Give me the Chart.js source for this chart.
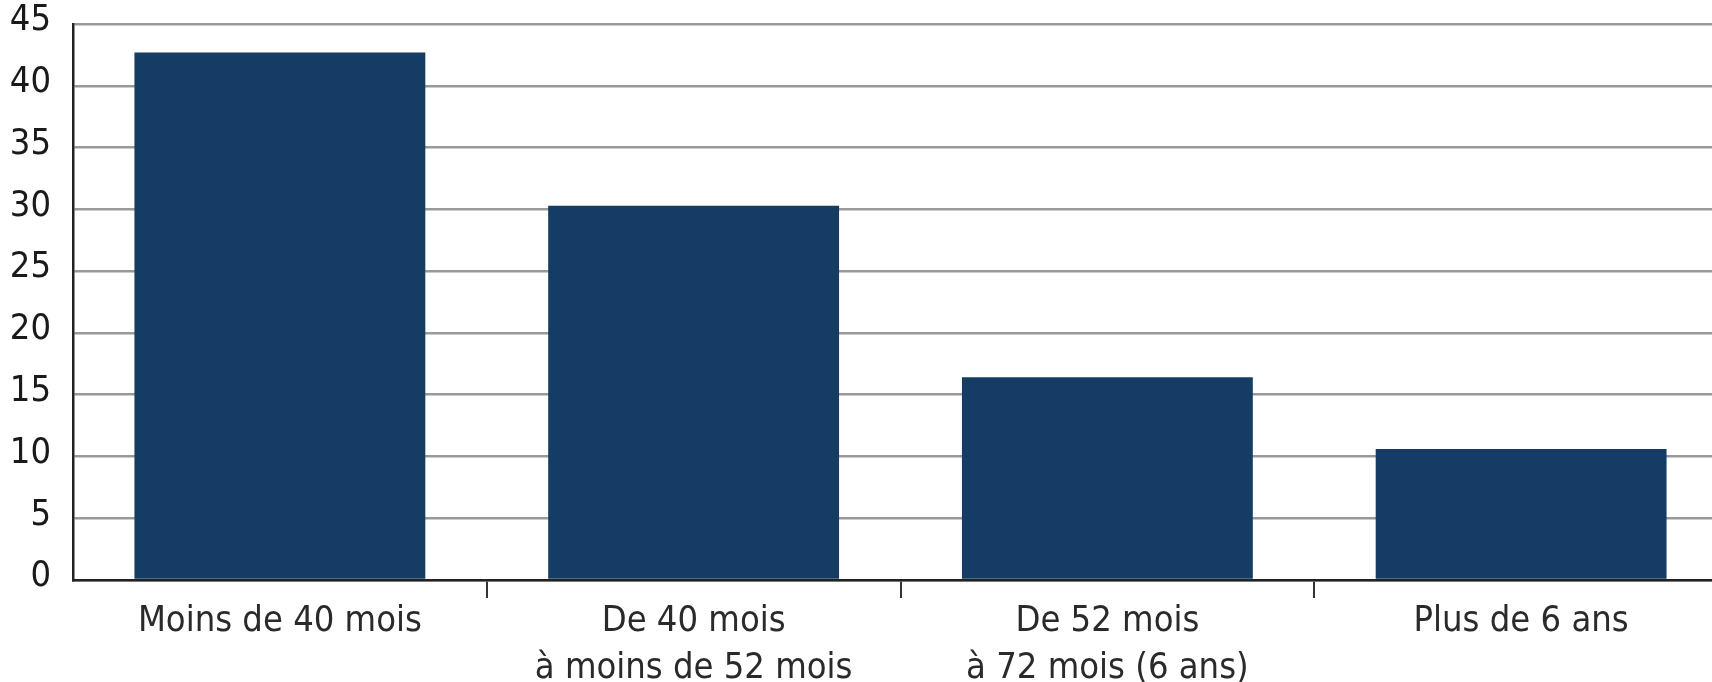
<!DOCTYPE html>
<html>
<head>
<meta charset="utf-8">
<script src="https://cdn.jsdelivr.net/npm/chart.js@4"></script>
<style>
  html, body { margin: 0; padding: 0; overflow: hidden; background: #fff; }
  #wrap { width: 1740px; height: 682px; position: relative; }
</style>
</head>
<body>
<div id="wrap"><canvas id="c"></canvas></div>
<script>
const categories = [
  "Moins de 40 mois",
  ["De 40 mois", "à moins de 52 mois"],
  ["De 52 mois", "à 72 mois (6 ans)"],
  "Plus de 6 ans"
];
const values = [42.7, 30.3, 16.4, 10.6];
const yTicks = [0, 5, 10, 15, 20, 25, 30, 35, 40, 45];

const FONT = "'Liberation Sans Narrow', 'DejaVu Sans Condensed', 'Arial Narrow', sans-serif";

new Chart(document.getElementById('c'), {
  type: 'bar',
  data: {
    labels: categories,
    datasets: [{
      data: values,
      backgroundColor: '#143c64',
      borderWidth: 0,
      categoryPercentage: 1.0,
      barPercentage: 0.703
    }]
  },
  options: {
    responsive: true,
    maintainAspectRatio: false,
    animation: false,
    devicePixelRatio: 1,
    layout: { padding: { top: 0, right: 12, left: 0, bottom: 0 } },
    plugins: { legend: { display: false }, tooltip: { enabled: false } },
    scales: {
      x: {
        afterFit: s => { s.height = 102; },
        grid: {
          offset: true,
          drawOnChartArea: false,
          drawTicks: true,
          tickLength: 18,
          lineWidth: 2,
          color: ctx => (ctx.index === 0 ? 'rgba(0,0,0,0)' : '#333')
        },
        border: { display: true, color: '#222', width: 2.5 },
        ticks: {
          color: '#2a2a2a',
          padding: 0,
          maxRotation: 0,
          autoSkip: false,
          font: { family: FONT, size: 36, lineHeight: 1.3 }
        }
      },
      y: {
        min: 0,
        max: 45,
        afterFit: s => { s.width = 73; s.paddingTop = 24; s.paddingBottom = 0; },
        afterBuildTicks: s => { s.ticks = yTicks.map(v => ({ value: v })); },
        grid: {
          drawTicks: false,
          lineWidth: 2.5,
          color: '#999999'
        },
        border: { display: true, color: '#222', width: 2.5 },
        ticks: {
          color: '#1a1a1a',
          padding: 22,
          labelOffset: -3,
          font: { family: FONT, size: 36 }
        }
      }
    }
  }
});
</script>
</body>
</html>
